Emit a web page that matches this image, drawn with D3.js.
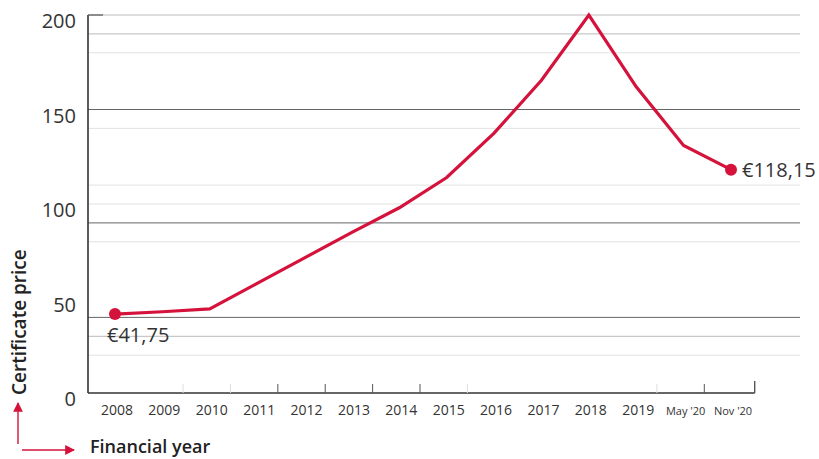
<!DOCTYPE html>
<html>
<head>
<meta charset="utf-8">
<script src="https://cdn.jsdelivr.net/npm/d3@7"></script>
<style>
  body { margin: 0; background: #fff; }
  text { font-family: "Open Sans", "DejaVu Sans", sans-serif; }
</style>
</head>
<body>
<div id="chart"></div>
<script>
// data
var categories = ["2008", "2009", "2010", "2011", "2012", "2013", "2014", "2015",
                  "2016", "2017", "2018", "2019", "May '20", "Nov '20"];
var prices = [41.75, 43, 44.5, 58, 71.5, 85, 98, 114, 137.5, 165.5, 200, 162, 131, 118.15];
var yTicks = [0, 50, 100, 150, 200];
var gridValues = [200, 190, 180, 150, 140, 110, 100, 90, 80, 40, 30, 20];
// boundaries between categories (index + 0.5) that carry a small tick
var tickBounds = [1.5, 2.5, 3.5, 4.5, 5.5, 6.5, 7.5, 11.5, 12.5, 13.5];
var startLabel = "€41,75";
var endLabel = "€118,15";

var width = 819, height = 459;
var red = "#d4123b";

var svg = d3.select("#chart")
  .append("svg")
    .attr("width", width)
    .attr("height", height);

var x = d3.scalePoint()
  .domain(categories)
  .range([115, 731]);
var step = x.step();

var y = d3.scaleLinear()
  .domain([0, 200])
  .range([393, 15]);

var axisLeftX = 88;
var gridRight = 800;

// grid lines
function gridColor(v) {
  if (v == 150 || v == 90 || v == 40) return "#666";
  if (v == 200 || v == 190 || v == 30) return "#bbb";
  return "#e2e2e2";
}
svg.append("g")
  .selectAll("line")
  .data(gridValues)
  .enter()
  .append("line")
    .attr("x1", axisLeftX)
    .attr("x2", gridRight)
    .attr("y1", function(d) { return y(d); })
    .attr("y2", function(d) { return y(d); })
    .attr("stroke", gridColor)
    .attr("stroke-width", 1);

// y axis line + labels
svg.append("line")
  .attr("x1", axisLeftX).attr("x2", axisLeftX)
  .attr("y1", y(200)).attr("y2", y(0))
  .attr("stroke", "#333").attr("stroke-width", 1.6);
svg.append("line")
  .attr("x1", axisLeftX).attr("x2", axisLeftX + 15)
  .attr("y1", y(200)).attr("y2", y(200))
  .attr("stroke", "#555").attr("stroke-width", 1.2);

svg.append("g")
  .selectAll("text")
  .data(yTicks)
  .enter()
  .append("text")
    .attr("x", 76)
    .attr("y", function(d) { return y(d) + 6; })
    .attr("dy", "0.35em")
    .attr("text-anchor", "end")
    .attr("font-size", "20px")
    .attr("fill", "#333")
    .text(function(d) { return d; });

// x axis
var xEnd = x(categories[categories.length - 1]) + step / 2;
svg.append("line")
  .attr("x1", axisLeftX).attr("x2", xEnd)
  .attr("y1", y(0)).attr("y2", y(0))
  .attr("stroke", "#333").attr("stroke-width", 1.6);

function boundX(b) { return x(categories[0]) + b * step - 3; }
svg.append("g")
  .selectAll("line")
  .data(tickBounds)
  .enter()
  .append("line")
    .attr("x1", function(d) { return d == 13.5 ? xEnd : boundX(d); })
    .attr("x2", function(d) { return d == 13.5 ? xEnd : boundX(d); })
    .attr("y1", y(0))
    .attr("y2", function(d) { return d == 13.5 ? y(0) - 12 : y(0) - 9; })
    .attr("stroke", function(d) {
      return (d == 1.5 || d == 2.5 || d == 7.5 || d == 11.5) ? "#ddd" : "#555";
    })
    .attr("stroke-width", function(d) { return d == 13.5 ? 1.4 : 1; });

svg.append("g")
  .selectAll("text")
  .data(categories)
  .enter()
  .append("text")
    .attr("x", function(d) { return x(d) + 2; })
    .attr("y", 415)
    .attr("text-anchor", "middle")
    .attr("font-size", function(d) { return d.length > 4 ? "11px" : "14px"; })
    .attr("fill", "#333")
    .text(function(d) { return d; });

// line
var points = categories.map(function(c, i) { return [x(c), y(prices[i])]; });
svg.append("path")
  .datum(points)
  .attr("fill", "none")
  .attr("stroke", red)
  .attr("stroke-width", 3.2)
  .attr("stroke-linejoin", "miter")
  .attr("d", d3.line());

// end dots
var first = points[0], last = points[points.length - 1];
svg.append("circle").attr("cx", first[0]).attr("cy", first[1]).attr("r", 6).attr("fill", red);
svg.append("circle").attr("cx", last[0]).attr("cy", last[1]).attr("r", 6).attr("fill", red);

svg.append("text")
  .attr("x", first[0] - 8)
  .attr("y", first[1] + 28)
  .attr("font-size", "20px")
  .attr("fill", "#333")
  .text(startLabel);
svg.append("text")
  .attr("x", last[0] + 11)
  .attr("y", last[1] + 7)
  .attr("font-size", "20px")
  .attr("fill", "#333")
  .text(endLabel);

// axis titles
svg.append("text")
  .attr("transform", "translate(26,395) rotate(-90)")
  .attr("font-size", "19px")
  .attr("font-weight", "600")
  .attr("fill", "#222")
  .text("Certificate price");
svg.append("text")
  .attr("x", 90)
  .attr("y", 453)
  .attr("font-size", "18px")
  .attr("font-weight", "600")
  .attr("fill", "#222")
  .text("Financial year");

// red arrows
svg.append("defs").append("marker")
  .attr("id", "arrow")
  .attr("viewBox", "0 0 10 10")
  .attr("refX", 9).attr("refY", 5)
  .attr("markerWidth", 7).attr("markerHeight", 7)
  .attr("orient", "auto")
  .append("path")
    .attr("d", "M0,0 L10,5 L0,10 Z")
    .attr("fill", red);
svg.append("line")
  .attr("x1", 18).attr("x2", 18)
  .attr("y1", 444).attr("y2", 403)
  .attr("stroke", red).attr("stroke-width", 1.4)
  .attr("marker-end", "url(#arrow)");
svg.append("line")
  .attr("x1", 22).attr("x2", 74)
  .attr("y1", 450).attr("y2", 450)
  .attr("stroke", red).attr("stroke-width", 1.4)
  .attr("marker-end", "url(#arrow)");
</script>
</body>
</html>
